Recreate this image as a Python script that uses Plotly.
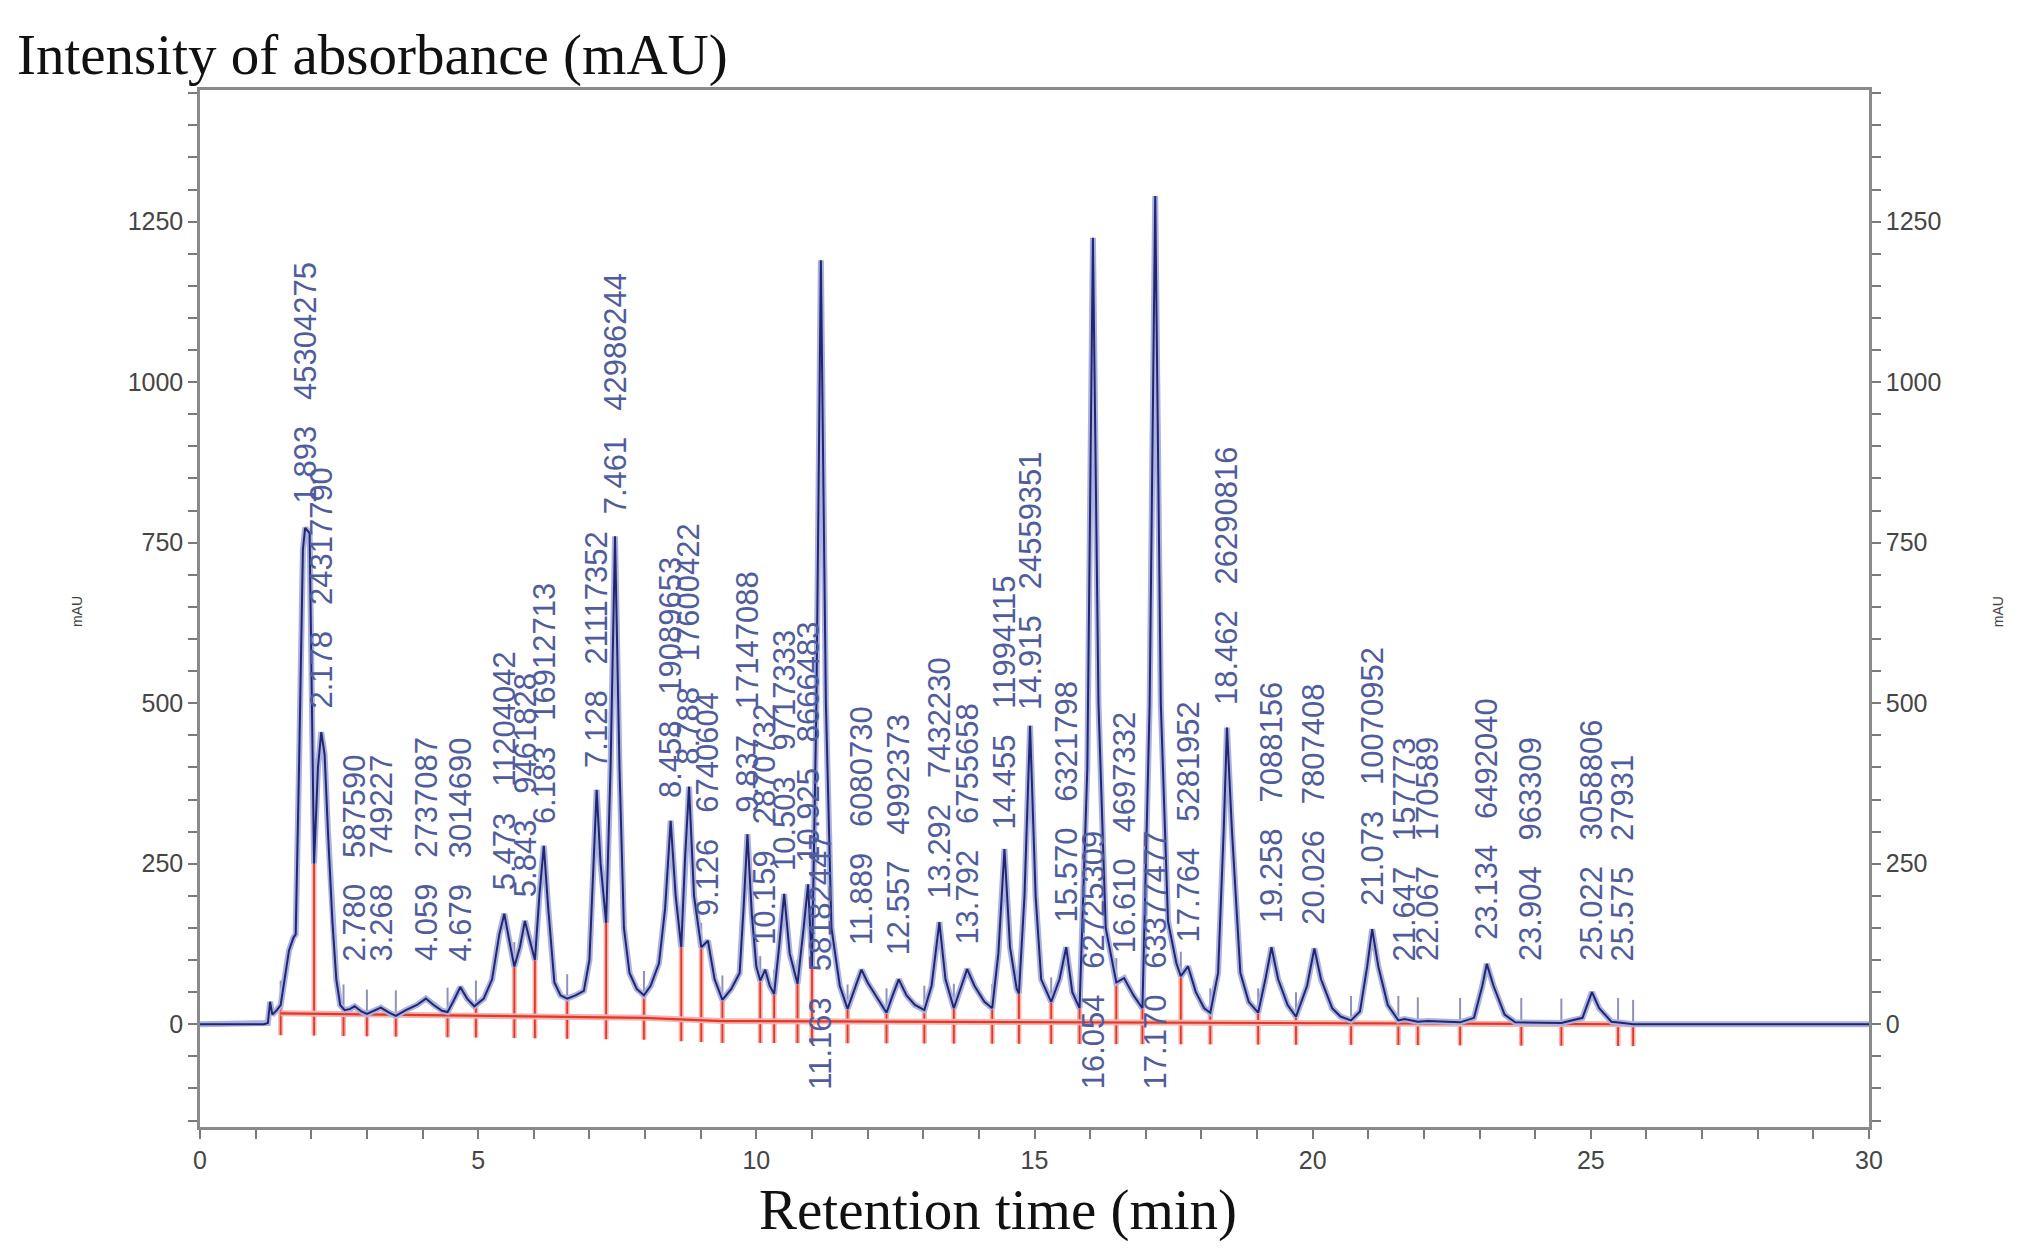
import numpy as np
import plotly.graph_objects as go

# detector trace: retention time (min) and signal (mAU)
time_min = [0, 1.15, 1.22, 1.26, 1.30, 1.38, 1.45, 1.52, 1.60, 1.68, 1.72, 1.78, 1.85, 1.89, 1.97,
            2.05, 2.12, 2.18, 2.24, 2.30, 2.38, 2.45, 2.52, 2.60, 2.70, 2.78, 2.90, 3.00, 3.15, 3.25,
            3.40, 3.52, 3.70, 3.90, 4.06, 4.20, 4.35, 4.45, 4.55, 4.68, 4.80, 4.93, 5.10, 5.25, 5.38,
            5.47, 5.56, 5.65, 5.75, 5.84, 5.93, 6.02, 6.10, 6.18, 6.26, 6.37, 6.48, 6.60, 6.75, 6.90,
            7.00, 7.06, 7.13, 7.20, 7.30, 7.38, 7.46, 7.54, 7.62, 7.72, 7.85, 7.98, 8.10, 8.25, 8.36,
            8.46, 8.55, 8.65, 8.72, 8.79, 8.88, 9.01, 9.13, 9.25, 9.39, 9.55, 9.70, 9.77, 9.84, 9.92,
            10.00, 10.07, 10.16, 10.24, 10.32, 10.42, 10.50, 10.60, 10.74, 10.85, 10.93, 11.00, 11.08,
            11.16, 11.25, 11.35, 11.50, 11.64, 11.75, 11.89, 12.00, 12.15, 12.34, 12.45, 12.56, 12.70,
            12.85, 13.02, 13.15, 13.29, 13.40, 13.55, 13.68, 13.79, 13.92, 14.10, 14.24, 14.35, 14.46,
            14.56, 14.68, 14.72, 14.82, 14.92, 15.02, 15.12, 15.30, 15.45, 15.57, 15.68, 15.81, 15.95,
            16.05, 16.15, 16.28, 16.47, 16.61, 16.78, 16.94, 17.07, 17.17, 17.27, 17.40, 17.55, 17.63,
            17.76, 17.90, 18.05, 18.16, 18.30, 18.40, 18.46, 18.55, 18.70, 18.85, 19.02, 19.15, 19.26,
            19.38, 19.55, 19.70, 19.90, 20.03, 20.15, 20.35, 20.50, 20.69, 20.85, 20.98, 21.07, 21.18,
            21.35, 21.54, 21.65, 21.89, 22.07, 22.65, 22.90, 23.05, 23.13, 23.25, 23.45, 23.64, 23.90,
            24.47, 24.85, 25.02, 25.15, 25.37, 25.58, 25.76, 30]
signal_mau = [0, 0, 2, 35, 15, 22, 30, 70, 115, 135, 140, 400, 740, 773, 765,
              250, 400, 455, 420, 300, 160, 70, 30, 22, 24, 28, 20, 16, 22, 26,
              18, 13, 22, 30, 40, 30, 21, 19, 35, 58, 40, 28, 40, 70, 140,
              172, 130, 90, 120, 161, 130, 100, 200, 278, 180, 65, 45, 40, 45, 52,
              100, 230, 365, 250, 158, 400, 760, 400, 150, 80, 55, 45, 60, 95, 180,
              317, 200, 120, 260, 370, 200, 120, 130, 70, 38, 55, 80, 180, 296, 170,
              90, 68, 85, 60, 47, 130, 203, 110, 63, 150, 218, 90, 500,
              1190, 500, 150, 60, 24, 50, 85, 65, 45, 18, 45, 70, 45,
              30, 22, 60, 159, 70, 25, 60, 86, 60, 35, 25, 110, 273,
              120, 55, 48, 200, 465, 200, 70, 35, 70, 120, 50, 25, 400,
              1225, 500, 150, 65, 72, 45, 25, 500, 1290, 500, 160, 95, 75,
              90, 50, 25, 18, 80, 300, 462, 300, 80, 35, 18, 70, 120,
              70, 30, 12, 60, 118, 70, 25, 12, 6, 20, 90, 148, 90,
              30, 6, 8, 4, 5, 3, 10, 60, 94, 60, 15, 3, 3,
              2, 10, 50, 25, 4, 2, 0, 0]

# integration: peak start/end marks and the drawn baseline
boundary_min = [1.45, 2.05, 2.58, 3.00, 3.52, 4.45, 4.96, 5.65, 6.02, 6.60, 7.30, 7.98, 8.65, 9.01,
                9.39, 10.07, 10.32, 10.74, 11.00, 11.64, 12.34, 13.02, 13.55, 14.24, 14.72, 15.30,
                15.81, 16.47, 16.94, 17.63, 18.16, 19.02, 19.70, 20.69, 21.54, 21.89, 22.65, 23.75,
                24.47, 25.49, 25.76]
baseline_min = [1.45, 7.98, 9.39, 13.55, 16.94, 20.69, 25.76]
baseline_mau = [17, 10, 5, 4, 3, 2, 0]

# peak table: retention time and area
peak_rt = [1.893, 2.178, 2.780, 3.268, 4.059, 4.679, 5.473, 5.843, 6.183, 7.128, 7.461, 8.458,
           8.788, 9.126, 9.837, 10.159, 10.503, 10.925, 11.163, 11.889, 12.557, 13.292, 13.792,
           14.455, 14.915, 15.570, 16.054, 16.610, 17.170, 17.764, 18.462, 19.258, 20.026,
           21.073, 21.647, 22.067, 23.134, 23.904, 25.022, 25.575]
peak_area = ["45304275", "24317790", "587590", "749227", "2737087", "3014690", "11204042",
             "9461828", "16912713", "21117352", "42986244", "19089653", "17600422", "6740604",
             "17147088", "2870732", "9717333", "8666483", "58182447", "6080730", "4992373",
             "7432230", "6755658", "11994115", "24559351", "6321798", "62725309", "4697332",
             "63377477", "5281952", "26290816", "7088156", "7807408", "10070952", "157773",
             "170589", "6492040", "963309", "3058806", "27931"]

y_range = [-160, 1455]
navy = "#22266e"
label_blue = "#4f5c9e"
red = "#e2382c"

fig = go.Figure()

# baseline and drop lines
bx, by, tx, ty = [], [], [], []
for b in boundary_min:
    base = np.interp(b, baseline_min, baseline_mau)
    top = np.interp(b, time_min, signal_mau)
    bx += [b, b, None]
    by += [base - 34, max(top, base), None]
    tx += [b, b, None]
    ty += [max(top, base), max(top, base) + 38, None]

fig.add_trace(go.Scatter(x=bx, y=by, mode="lines", line=dict(color="#f3b5ae", width=5), hoverinfo="skip"))
fig.add_trace(go.Scatter(x=bx, y=by, mode="lines", line=dict(color=red, width=1.8), hoverinfo="skip"))
fig.add_trace(go.Scatter(x=tx, y=ty, mode="lines", line=dict(color="#8e92bb", width=2), hoverinfo="skip"))
fig.add_trace(go.Scatter(x=baseline_min, y=baseline_mau, mode="lines",
                         line=dict(color="#f3b5ae", width=6), hoverinfo="skip"))
fig.add_trace(go.Scatter(x=baseline_min, y=baseline_mau, mode="lines",
                         line=dict(color=red, width=2.2), hoverinfo="skip"))

# the chromatogram itself
fig.add_trace(go.Scatter(x=time_min, y=signal_mau, mode="lines",
                         line=dict(color="#aab2e2", width=6), hoverinfo="skip"))
fig.add_trace(go.Scatter(x=time_min, y=signal_mau, mode="lines",
                         line=dict(color=navy, width=2), name="mAU"))
fig.add_trace(go.Scatter(x=[0, 30], y=[0, 0], yaxis="y2", mode="lines",
                         line=dict(width=0), hoverinfo="skip"))

# peak labels, rotated; off-scale peaks get theirs under the baseline
for rt, area in zip(peak_rt, peak_area):
    h = float(np.interp(rt, time_min, signal_mau))
    y0 = -105 if h > 1000 else max(h + 35, 95)
    fig.add_annotation(x=rt, y=y0, xref="x", yref="y", text=f"{rt:.3f}\u00a0\u00a0 {area}",
                       textangle=-90, showarrow=False, xanchor="center", yanchor="bottom",
                       font=dict(family="Liberation Sans, Arial", size=31, color=label_blue))

serif = dict(family="Liberation Serif, Times New Roman, serif", size=57, color="#111111")
fig.add_annotation(text="Intensity of absorbance (mAU)", xref="paper", yref="paper",
                   x=-0.111, y=1.034, xanchor="left", yanchor="middle", showarrow=False, font=serif)
fig.add_annotation(text="Retention time (min)", xref="paper", yref="paper",
                   x=0.478, y=-0.080, xanchor="center", yanchor="middle", showarrow=False, font=serif)
for xp in (-0.080, 1.083):
    fig.add_annotation(text="mAU", xref="paper", yref="paper", x=xp, y=0.497, textangle=-90,
                       showarrow=False, font=dict(family="Liberation Sans, Arial", size=14, color="#444444"))

tick_font = dict(family="Liberation Sans, Arial", size=25, color="#454545")
axis_common = dict(showgrid=False, zeroline=False, showline=True, linecolor="#8a8a8a", linewidth=2.5,
                   ticks="outside", ticklen=9, tickwidth=2, tickcolor="#7a7a7a", tickfont=tick_font)

fig.update_layout(
    width=2036, height=1253,
    margin=dict(l=192, r=175, t=82, b=134),
    plot_bgcolor="white", paper_bgcolor="white",
    showlegend=False,
    xaxis=dict(range=[0, 30], tick0=0, dtick=5, mirror=True,
               minor=dict(dtick=1, ticks="outside", ticklen=9, tickwidth=2, tickcolor="#7a7a7a"),
               **axis_common),
    yaxis=dict(range=y_range, tick0=0, dtick=250, mirror=True,
               minor=dict(tick0=0, dtick=50, ticks="outside", ticklen=9, tickwidth=2, tickcolor="#7a7a7a"),
               **axis_common),
    yaxis2=dict(range=y_range, tick0=0, dtick=250, overlaying="y", side="right",
                minor=dict(tick0=0, dtick=50, ticks="outside", ticklen=9, tickwidth=2, tickcolor="#7a7a7a"),
                **axis_common),
)

fig.write_html("out.html")
